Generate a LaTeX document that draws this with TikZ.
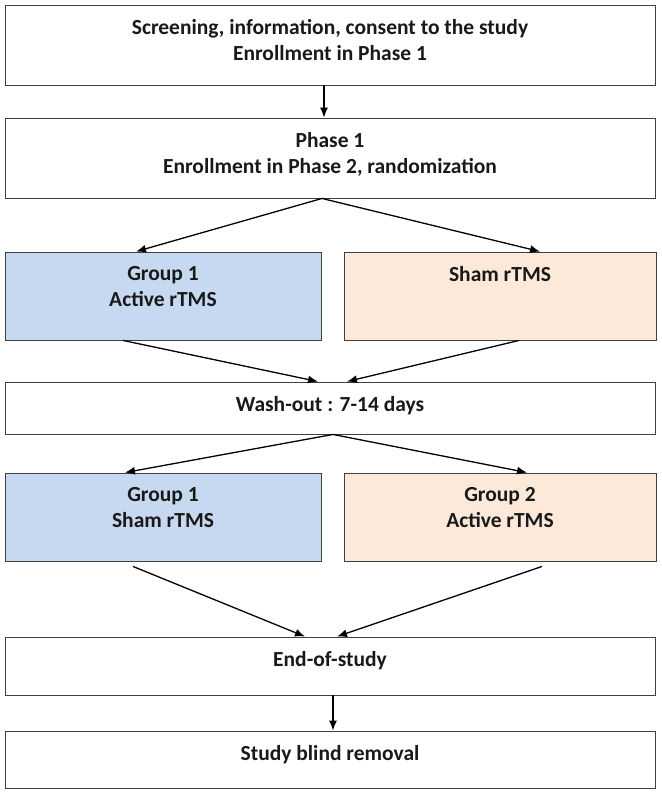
\documentclass[tikz,border=0pt]{standalone}
\usepackage{fontspec}
\setmainfont{Carlito}
\usetikzlibrary{arrows.meta}
\usetikzlibrary{calc}

\definecolor{grpblue}{HTML}{C6D9F1}
\definecolor{grporange}{HTML}{FDE9D9}
\definecolor{boxline}{HTML}{404040}

\begin{document}
\begin{tikzpicture}[x=1pt, y=-1pt,
  box/.style={draw=boxline, line width=0.9pt, minimum width=650pt, inner sep=0pt},
  half/.style={box, minimum width=316pt, minimum height=88pt},
  txt/.style={anchor=north, yshift=-15pt, inner sep=0pt, align=center, text=black!90, font=\fontsize{21.5}{26}\selectfont\bfseries},
  flow/.style={-{Latex[length=10pt,width=8pt]}, line width=1.3pt}]
  \useasboundingbox (0,0) rectangle (661,794);

  \node[box, minimum height=80pt, label={[txt]north:{Screening, information, consent to the study\\Enrollment in Phase 1}}] (screen) at (330,45) {};
  \node[box, minimum height=80pt, label={[txt]north:{Phase 1\\Enrollment in Phase 2, randomization}}] (phase) at (330,158) {};

  \node[half, fill=grpblue, label={[txt]north:{Group 1\\Active rTMS}}] (g1a) at (163,296) {};
  \node[half, fill=grporange, minimum width=312pt, label={[txt]north:{Sham rTMS}}] (g2a) at (500,296) {};

  \node[box, minimum height=52pt, label={[txt]north:{Wash-out : 7-14 days}}] (wash) at (330,408) {};

  \node[half, fill=grpblue, label={[txt]north:{Group 1\\Sham rTMS}}] (g1b) at (163,517) {};
  \node[half, fill=grporange, minimum width=312pt, label={[txt]north:{Group 2\\Active rTMS}}] (g2b) at (500,517) {};

  \node[box, minimum height=58pt, label={[txt]north:{End-of-study}}] (endst) at (330,666) {};
  \node[box, minimum height=57pt, label={[txt]north:{Study blind removal}}] (blind) at (330,759.5) {};

  \draw[flow] ($(screen.south)+(-6,0)$) -- ($(phase.north)+(-6,0)$);
  \draw[flow] ($(phase.south)+(-8,0)$) -- ($(g1a.north)+(-27,0)$);
  \draw[flow] ($(phase.south)+(-8,0)$) -- ($(g2a.north)+(40,0)$);
  \draw[flow] ($(g1a.south)+(-40,0)$) -- ($(wash.north)+(-12,0)$);
  \draw[flow] ($(g2a.south)+(19,0)$) -- ($(wash.north)+(17,0)$);

  \draw[flow] ($(wash.south)+(3,0)$) -- ($(g1b.north)+(-38,0)$);
  \draw[flow] ($(wash.south)+(3,0)$) -- ($(g2b.north)+(27,0)$);
  \draw[flow] ($(g1b.south)+(-30,5)$) -- ($(endst.north)+(-25,0)$);
  \draw[flow] ($(g2b.south)+(42,5)$) -- ($(endst.north)+(7,0)$);
  \draw[flow] ($(endst.south)+(3,0)$) -- ($(blind.north)+(3,0)$);
\end{tikzpicture}
\end{document}
